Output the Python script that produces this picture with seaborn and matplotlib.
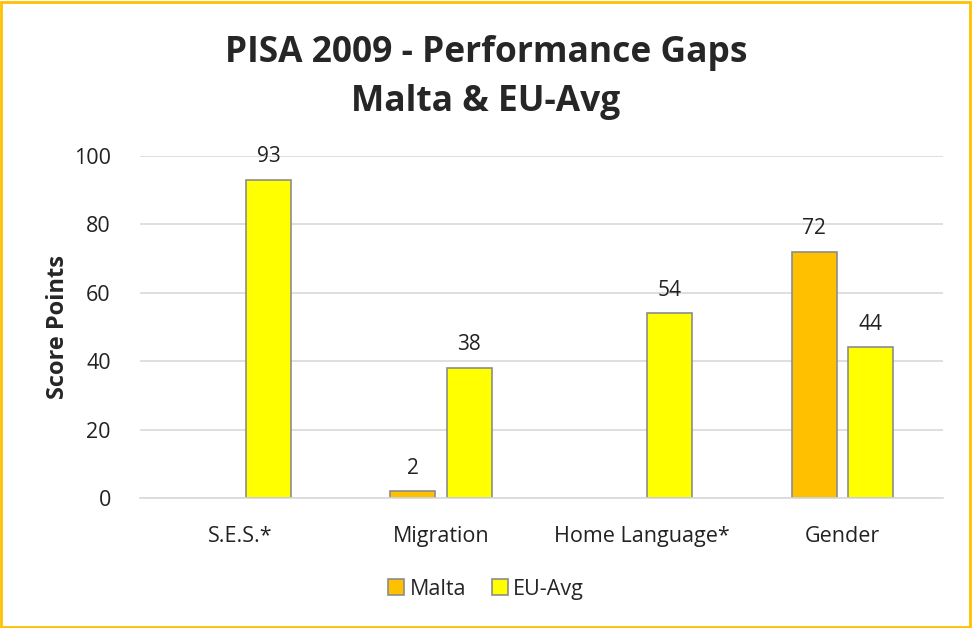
import pandas as pd
import seaborn as sns
import matplotlib.pyplot as plt
from matplotlib.patches import Rectangle, Patch

# Data
categories = ["S.E.S.*", "Migration", "Home Language*", "Gender"]
malta = [None, 2, None, 72]
eu_avg = [93, 38, 54, 44]
series = ["Malta", "EU-Avg"]
colors = {"Malta": "#FFC000", "EU-Avg": "#FFFF00"}

rows = []
for cat, m, e in zip(categories, malta, eu_avg):
    if m is not None:
        rows.append({"Category": cat, "Series": "Malta", "Score": m})
    if e is not None:
        rows.append({"Category": cat, "Series": "EU-Avg", "Score": e})
df = pd.DataFrame(rows)

sns.set_style("white")
plt.rcParams['font.family'] = ['Open Sans', 'DejaVu Sans']

fig = plt.figure(figsize=(9.72, 6.28), dpi=100)
ax = fig.add_axes([0.144, 0.207, 0.826, 0.545])

sns.barplot(data=df, x="Category", y="Score", hue="Series", order=categories,
            hue_order=series, palette=colors, saturation=1, width=0.56, gap=0.2,
            edgecolor="#8C8C8C", linewidth=1.2, legend=False, ax=ax)

for cont in ax.containers:
    ax.bar_label(cont, fmt="%g", padding=9, fontsize=15, color="#222222")

ax.set_ylim(0, 100)
ax.set_yticks(range(0, 101, 20))
ax.set_xlim(-0.5, 3.5)
ax.yaxis.grid(True, color="#D9D9D9", linewidth=1.2)
ax.set_axisbelow(True)
for s in ["top", "right", "left"]:
    ax.spines[s].set_visible(False)
ax.spines["bottom"].set_color("#D9D9D9")
ax.spines["bottom"].set_linewidth(1.2)
ax.tick_params(axis="both", length=0, labelsize=15.5, colors="#222222")
ax.tick_params(axis="x", pad=20)
ax.tick_params(axis="y", pad=21)
ax.set_xlabel("")
ax.set_ylabel("Score Points", fontsize=17, fontweight="bold", labelpad=3)

fig.suptitle("PISA 2009 - Performance Gaps\nMalta & EU-Avg", y=0.945, va="top",
             fontsize=25.5, fontweight="bold", linespacing=1.5)

handles = [Patch(facecolor=colors[s], edgecolor="#8C8C8C", linewidth=1.2, label=s)
           for s in series]
fig.legend(handles=handles, loc="center", bbox_to_anchor=(0.5, 0.062), ncol=2,
           frameon=False, fontsize=15.5, handlelength=0.75, handleheight=0.75,
           handletextpad=0.25, columnspacing=1.2)

fig.patches.append(Rectangle((0.001, 0.002), 0.997, 0.995, transform=fig.transFigure,
                             fill=False, edgecolor="#FFC000", linewidth=2))

plt.savefig("out.png", dpi=100)
